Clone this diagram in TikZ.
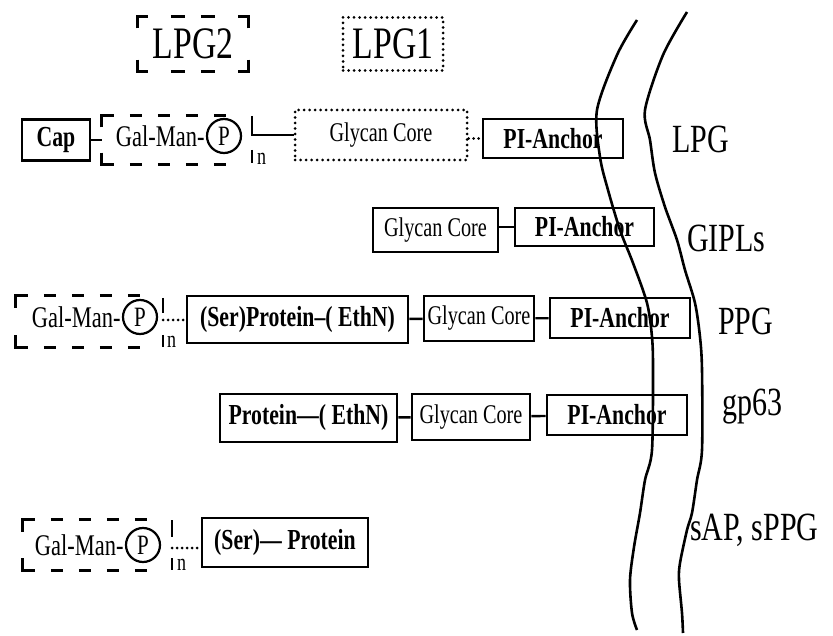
\documentclass[tikz,border=0pt]{standalone}
\usepackage{fontspec}
\setmainfont{Liberation Serif}[FakeStretch=0.75]
\usetikzlibrary{positioning}

\begin{document}
\begin{tikzpicture}[x=1pt,y=-1pt,
   every node/.style={inner sep=0pt},
   box/.style={draw,line width=2.8pt,font=\fontsize{29}{30}\selectfont\bfseries},
   corebox/.style={draw,line width=2.8pt,font=\fontsize{27}{28}\selectfont},
   dotbox/.style={corebox,line width=3pt,line cap=round,dash pattern=on 0pt off 5.5pt},
   pcirc/.style={circle,draw,line width=2.2pt,minimum size=34pt,font=\fontsize{28}{29}\selectfont},
   galtext/.style={font=\fontsize{30}{31}\selectfont},
   tag/.style={font=\fontsize{40}{42}\selectfont,anchor=base west},
   sub/.style={font=\fontsize{24}{25}\selectfont,anchor=base west},
   link/.style={line width=2.4pt},
   dotlink/.style={line width=3pt,line cap=round,dash pattern=on 0pt off 5pt},
   dashline/.style={line width=3pt,dash pattern=on 12pt off 16pt},
   corner/.style={line width=3pt},
   membrane/.style={line width=2.6pt}]
  \useasboundingbox (0,0) rectangle (833,636);

  % legend
  \node[minimum width=110,minimum height=55,font=\fontsize{45}{46}\selectfont] (lpg2) at (193,44) {LPG2};
  \node[dotbox,minimum width=100,minimum height=53,font=\fontsize{45}{46}\selectfont] (lpg1) at (393,44) {LPG1};
  \draw[corner] ([yshift=-12pt]lpg2.north west) |- ([xshift=10pt]lpg2.north west)
    ([yshift=-12pt]lpg2.north east) |- ([xshift=-10pt]lpg2.north east)
    ([yshift=12pt]lpg2.south west) |- ([xshift=10pt]lpg2.south west)
    ([yshift=12pt]lpg2.south east) |- ([xshift=-10pt]lpg2.south east);
  \draw[corner,dash pattern=on 14pt off 16pt] ([xshift=33pt]lpg2.north west) -- ([xshift=80pt]lpg2.north west)
    ([xshift=33pt]lpg2.south west) -- ([xshift=80pt]lpg2.south west);

  % LPG
  \node[box,minimum width=68,minimum height=41] (cap) at (56,140) {Cap};
  \node[minimum width=136,minimum height=49] (gm1) at (170,140) {};
  \node[pcirc] (p1) at (224,136) {P};
  \node[galtext,left=1pt of p1] (g1) {Gal-Man-};
  \coordinate (br1) at (252,116);
  \node[sub] (n1) at (257,165) {n};
  \node[dotbox,minimum width=172,minimum height=50] (gc1) at (381,135) {Glycan Core};
  \node[box,minimum width=140,minimum height=39] (pi1) at (553,138.5) {PI-Anchor};
  \node[tag] (lpg) at (672,153) {LPG};
  \draw[dashline] (gm1.north west) -- (gm1.north east) (gm1.south west) -- (gm1.south east);
  \draw[corner] ([yshift=-12pt]gm1.north west) |- ([xshift=12pt]gm1.north west)
    ([yshift=12pt]gm1.south west) |- ([xshift=12pt]gm1.south west);
  \draw[link] (cap) -- (gm1);
  \draw[link] (br1) |- (gc1.west);
  \draw[link] ([yshift=-34pt]br1) -- ([yshift=-47pt]br1);
  \draw[dotlink] (pi1.west -| gc1.east) -- (pi1.west);

  % GIPLs
  \node[corebox,minimum width=125,minimum height=44] (gc2) at (435.5,230) {Glycan Core};
  \node[box,minimum width=139,minimum height=38] (pi2) at (584.5,227) {PI-Anchor};
  \node[tag] (gipl) at (687,252) {GIPLs};
  \draw[link] (pi2.west -| gc2.east) -- (pi2.west);

  % PPG
  \node[minimum width=132,minimum height=51] (gm3) at (82,321.5) {};
  \node[pcirc] (p3) at (140,317) {P};
  \node[galtext,left=1pt of p3] (g3) {Gal-Man-};
  \coordinate (br3) at (163,320);
  \node[sub] (n3) at (167,348) {n};
  \node[box,minimum width=221,minimum height=47] (sp3) at (297.5,319.5) {(Ser)Protein--( EthN)};
  \node[corebox,minimum width=110,minimum height=45] (gc3) at (479,318.5) {Glycan Core};
  \node[box,minimum width=140,minimum height=40] (pi3) at (620,318) {PI-Anchor};
  \node[tag] (ppg) at (718,335) {PPG};
  \draw[dashline] (gm3.north west) -- (gm3.north east) (gm3.south west) -- (gm3.south east);
  \draw[corner] ([yshift=-12pt]gm3.north west) |- ([xshift=12pt]gm3.north west)
    ([yshift=12pt]gm3.south west) |- ([xshift=12pt]gm3.south west);
  \draw[link] ([yshift=22pt]br3) -- ([yshift=7pt]br3) ([yshift=-15pt]br3) -- ([yshift=-27pt]br3);
  \draw[dotlink] (br3) -- (br3 -| sp3.west);
  \draw[link] (sp3) -- (gc3);
  \draw[link] (gc3) -- (pi3);

  % gp63
  \node[box,minimum width=177,minimum height=48] (pe4) at (308.5,418) {Protein---( EthN)};
  \node[corebox,minimum width=118,minimum height=46] (gc4) at (471,417) {Glycan Core};
  \node[box,minimum width=140,minimum height=40] (pi4) at (617,415) {PI-Anchor};
  \node[tag] (gp) at (722,415) {gp63};
  \draw[link] (pe4) -- (gc4);
  \draw[link] (gc4) -- (pi4);

  % sAP, sPPG
  \node[minimum width=134,minimum height=50] (gm5) at (90,545) {};
  \node[pcirc] (p5) at (143,545) {P};
  \node[galtext,left=1pt of p5] (g5) {Gal-Man-};
  \coordinate (br5) at (172,548);
  \node[sub] (n5) at (177,570) {n};
  \node[box,minimum width=166,minimum height=49] (sp5) at (285,542.5) {(Ser)--- Protein};
  \node[tag] (sap) at (690,540) {sAP, sPPG};
  \draw[dashline] (gm5.north west) -- (gm5.north east) (gm5.south west) -- (gm5.south east);
  \draw[corner] ([yshift=-12pt]gm5.north west) |- ([xshift=12pt]gm5.north west)
    ([yshift=12pt]gm5.south west) |- ([xshift=12pt]gm5.south west);
  \draw[link] ([yshift=28pt]br5) -- ([yshift=11pt]br5) ([yshift=-10pt]br5) -- ([yshift=-22pt]br5);
  \draw[dotlink] (br5) -- (br5 -| sp5.west);

  % membrane
  \draw[membrane] plot[smooth] coordinates {(637,20) (617,55) (597,110) (600,157) (608,190)
    (620,230) (633,263) (647,303) (652,337) (653,370) (652,450) (645,480) (640,513)
    (634,547) (630,580) (632,613) (637,630)};
  \draw[membrane] plot[smooth] coordinates {(687,12) (663,55) (645,110) (650,140) (655,173)
    (665,207) (677,240) (685,270) (695,303) (700,337) (702,370) (702,450) (697,480)
    (692,513) (687,530) (680,563) (679,580) (682,613) (683,633)};
\end{tikzpicture}
\end{document}
